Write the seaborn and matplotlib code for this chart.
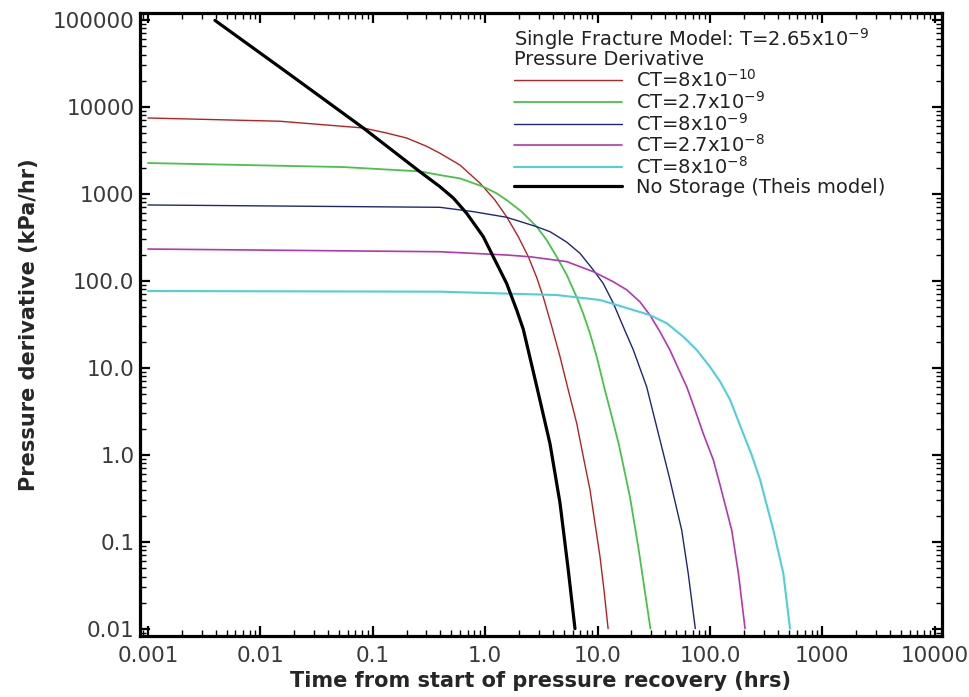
import numpy as np
import pandas as pd
import matplotlib
matplotlib.use("Agg")
import matplotlib.pyplot as plt
import matplotlib.ticker as mticker
import seaborn as sns

# values: time (hrs) vs pressure derivative (kPa/hr)
t_ct1 = [0.001, 0.0149, 0.0823, 0.133, 0.2, 0.302, 0.396, 0.597, 0.90, 1.22, 1.55,
         1.97, 2.42, 2.87, 3.29, 3.91, 4.63, 5.48, 6.52, 7.46, 8.55, 9.48, 10.5, 11.4, 12.4]
dp_ct1 = [7480, 6860, 5740, 5020, 4400, 3530, 2940, 2150, 1330, 853, 548,
          323, 190, 110, 65, 30, 13.5, 5.6, 2.31, 0.956, 0.40, 0.164, 0.068, 0.028, 0.0101]

t_ct2 = [0.001, 0.0546, 0.263, 0.396, 0.597, 0.962, 1.26, 1.55, 2.11, 2.87, 3.52, 4.32,
         5.31, 6.70, 7.46, 8.55, 9.82, 11.6, 13.4, 15.5, 19.4, 23, 29.5]
dp_ct2 = [2270, 2040, 1820, 1650, 1510, 1213, 1020, 853, 627, 421, 296, 190,
          118, 60, 42, 25, 13.5, 5.6, 2.75, 1.3, 0.33, 0.088, 0.0101]

t_ct3 = [0.001, 0.396, 0.783, 1.55, 2.87, 3.77, 5.31, 6.97, 9.16, 11.2, 13.8, 16.9,
         20.8, 27.3, 34.7, 44, 56, 64, 74]
dp_ct3 = [748, 703, 627, 540, 421, 369, 280, 208, 134, 94, 55.5, 29.9,
          16.1, 6.1, 1.77, 0.52, 0.137, 0.0436, 0.0101]

t_ct4 = [0.001, 0.396, 1.55, 2.5, 5.31, 9.16, 10.5, 13.8, 18.2, 23.8, 29.2, 35.9,
         44, 52.2, 62, 73.6, 87, 107, 123, 156, 179, 205]
dp_ct4 = [233, 217, 199, 190, 167, 128, 117, 98, 79, 57.6, 40.6, 26.1,
          16.1, 9.9, 6.1, 3.3, 1.77, 0.88, 0.45, 0.137, 0.0436, 0.0101]

t_ct5 = [0.001, 0.396, 4.32, 10.5, 14.8, 20.8, 29.2, 41.2, 57.8, 76.3, 100, 123,
         151, 205, 235, 279, 366, 449, 515]
dp_ct5 = [76.7, 75.4, 69, 60.5, 53, 46.4, 40.6, 32.7, 22.9, 16.1, 10.3, 6.97,
          4.3, 1.56, 1.0, 0.52, 0.137, 0.0436, 0.0101]

t_theis = [0.00394, 0.016, 0.0823, 0.263, 0.396, 0.52, 0.684, 0.962, 1.18, 1.55, 1.91,
           2.18, 2.87, 3.77, 4.63, 5.48, 6.29]
dp_theis = [99000, 26800, 5740, 1800, 1213, 900, 600, 323, 190, 94, 46,
            28, 6.2, 1.35, 0.28, 0.048, 0.0101]

labels = [r"CT=8x10$^{-10}$", r"CT=2.7x10$^{-9}$", r"CT=8x10$^{-9}$",
          r"CT=2.7x10$^{-8}$", r"CT=8x10$^{-8}$", "No Storage (Theis model)"]
colors = ["#b52222", "#48c248", "#1d2775", "#b336b3", "#4fcfdc", "black"]
widths = [1.0, 1.3, 1.0, 1.2, 1.5, 2.3]

x_ticks = [1e-3, 1e-2, 1e-1, 1e0, 1e1, 1e2, 1e3, 1e4]
x_tick_labels = ["0.001", "0.01", "0.1", "1.0", "10.0", "100.0", "1000", "10000"]
y_ticks = [1e-2, 1e-1, 1e0, 1e1, 1e2, 1e3, 1e4, 1e5]
y_tick_labels = ["0.01", "0.1", "1.0", "10.0", "100.0", "1000", "10000", "100000"]

series = [(t_ct1, dp_ct1), (t_ct2, dp_ct2), (t_ct3, dp_ct3),
          (t_ct4, dp_ct4), (t_ct5, dp_ct5), (t_theis, dp_theis)]
df = pd.concat([pd.DataFrame({"t": t, "dp": dp, "curve": lab})
                for (t, dp), lab in zip(series, labels)], ignore_index=True)

sns.set_style("ticks")
plt.rcParams["font.family"] = ["DejaVu Sans"]
plt.rcParams["mathtext.fontset"] = "dejavusans"

fig = plt.figure(figsize=(9.7, 6.97), dpi=100)
ax = fig.add_axes([140 / 970, 1 - 636 / 697, 802 / 970, 623 / 697])

for lab, col, lw in zip(labels, colors, widths):
    sub = df[df["curve"] == lab]
    sns.lineplot(data=sub, x="t", y="dp", ax=ax, color=col, linewidth=lw,
                 label=lab, sort=False, estimator=None)

ax.set_xscale("log")
ax.set_yscale("log")
ax.set_xlim(10 ** (-3 - 8 / 112.4), 10 ** (-3 + 794 / 112.4))
ax.set_ylim(10 ** (5 - 616 / 87), 10 ** (5 + 7 / 87))

ax.set_xticks(x_ticks, x_tick_labels)
ax.set_yticks(y_ticks, y_tick_labels)
for axis in (ax.xaxis, ax.yaxis):
    axis.set_minor_locator(mticker.LogLocator(base=10, subs=np.arange(2, 10), numticks=30))
    axis.set_minor_formatter(mticker.NullFormatter())

ax.tick_params(which="both", direction="in", top=True, right=True, colors="black",
               labelcolor="#3a3a3a", labelsize=15.5)
ax.tick_params(which="major", length=7, width=1.6)
ax.tick_params(which="minor", length=4, width=1.0)
ax.tick_params(axis="x", which="major", pad=7)
ax.tick_params(axis="y", which="major", pad=4)

for sp in ax.spines.values():
    sp.set_linewidth(2.3)
    sp.set_color("black")

ax.set_xlabel("Time from start of pressure recovery (hrs)", fontsize=15,
              fontweight="bold", labelpad=4)
ax.set_ylabel("Pressure derivative (kPa/hr)", fontsize=15,
              fontweight="bold", labelpad=10)

leg = ax.legend(title="Single Fracture Model: T=2.65x10$^{-9}$\nPressure Derivative",
                loc="upper left", bbox_to_anchor=(514 / 970, 1 - 26 / 697),
                bbox_transform=fig.transFigure, frameon=False, fontsize=14,
                title_fontsize=14, handlelength=5.55, handletextpad=0.7,
                labelspacing=0.0, borderpad=0, borderaxespad=0,
                alignment="left")
leg.get_title().set_linespacing(0.85)
for txt in leg.get_texts():
    txt.set_color("#222222")
leg.get_title().set_color("#222222")

fig.savefig("out.png", dpi=100, facecolor="white")
